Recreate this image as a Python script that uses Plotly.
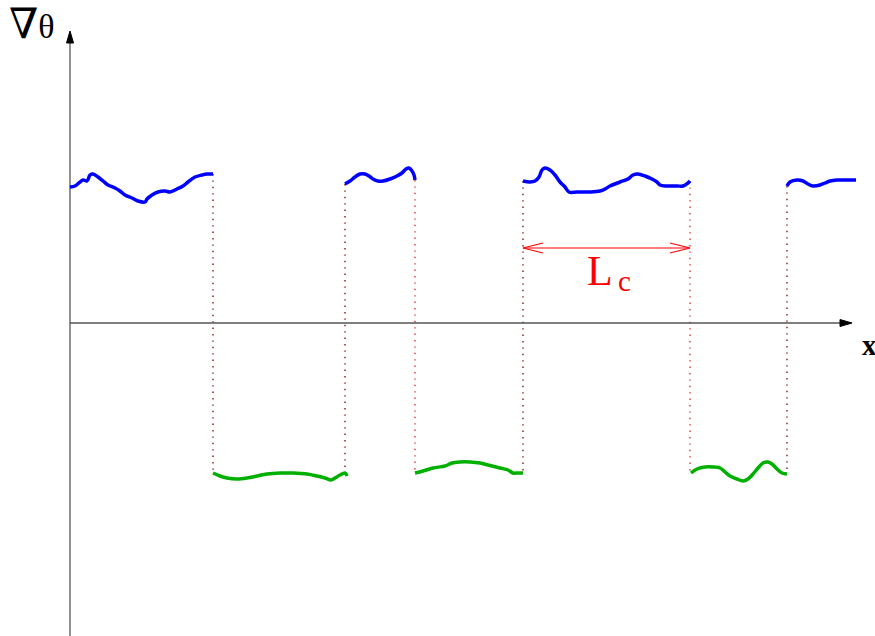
import plotly.graph_objects as go

# Interface positions (distance along x from the origin)
interfaces = [143, 275, 345, 453, 620, 717]
# Which interfaces are drawn in bright red (the others in dark red)
highlight = [345, 620]

# Positive-gradient (blue) segments
blue_x = [
    [0, 5, 10, 13, 17, 20, 23, 28, 33, 38, 45, 50, 55, 62, 68, 75, 77, 82, 88, 95, 100, 107, 113, 118, 125, 132, 137, 143],
    [275, 280, 285, 290, 295, 299, 303, 308, 313, 320, 327, 332, 336, 339, 342, 344, 345],
    [453, 460, 465, 469, 472, 475, 480, 485, 490, 495, 499, 507, 520, 530, 535, 540, 550, 558, 563, 568, 575, 582, 587, 590, 597, 607, 613, 618, 620],
    [717, 720, 727, 733, 738, 743, 750, 755, 760, 767, 777, 786],
]
blue_y = [
    [136, 137, 141, 143, 142, 148, 149, 146, 142, 138, 135, 132, 128, 125, 122, 121, 124, 128, 131, 132, 131, 134, 137, 141, 146, 148, 149, 149],
    [139, 142, 146, 149, 149, 147, 144, 142, 142, 144, 147, 150, 154, 155, 152, 148, 143],
    [142, 141, 142, 146, 153, 155, 153, 148, 141, 136, 131, 131, 131, 132, 134, 137, 141, 144, 148, 149, 147, 144, 141, 138, 137, 137, 137, 140, 142],
    [137, 141, 143, 142, 139, 137, 138, 140, 142, 143, 143, 143],
]

# Negative-gradient (green) segments
green_x = [
    [143, 150, 157, 167, 177, 187, 197, 210, 223, 237, 247, 255, 261, 265, 270, 275, 277],
    [345, 353, 363, 375, 382, 390, 400, 410, 418, 430, 438, 443, 448, 453],
    [621, 627, 635, 643, 650, 655, 660, 667, 673, 678, 683, 688, 693, 698, 702, 707, 712, 717],
]
green_y = [
    [-150, -153, -155, -156, -155, -153, -151, -150, -150, -151, -153, -155, -157, -155, -152, -150, -153],
    [-150, -148, -145, -143, -140, -139, -139, -140, -142, -145, -147, -150, -150, -150],
    [-150, -146, -144, -144, -145, -149, -153, -156, -158, -156, -151, -145, -140, -139, -141, -146, -150, -151],
]

# Correlation length marker: spans between two interfaces
lc_start, lc_end, lc_level = 453, 620, 75

# Axis extents
x_min, x_max = -70, 805
y_min, y_max = -313, 323
x_axis_tip = 782
y_axis_tip = 292

AXIS_COLOR = "#555555"
BLUE = "#0000ff"
GREEN = "#00b000"
RED = "#ff0000"
DARK_RED = "#801818"
LIGHT_RED = "#e03838"

fig = go.Figure()


def endpoint_y(xs_list, ys_list, x0):
    best = None
    for xs, ys in zip(xs_list, ys_list):
        for xv, yv in ((xs[0], ys[0]), (xs[-1], ys[-1])):
            d = abs(xv - x0)
            if best is None or d < best[0]:
                best = (d, yv)
    return best[1]


# Dotted connectors at each interface
for b in interfaces:
    top = endpoint_y(blue_x, blue_y, b)
    bot = endpoint_y(green_x, green_y, b)
    fig.add_trace(go.Scatter(
        x=[b, b], y=[top, bot], mode="lines",
        line=dict(color=LIGHT_RED if b in highlight else DARK_RED, width=1.4, dash="1.4px,5px"),
        hoverinfo="skip",
    ))

# Axes
fig.add_trace(go.Scatter(x=[0, 0], y=[y_min, y_axis_tip - 8], mode="lines",
                         line=dict(color=AXIS_COLOR, width=1.3), hoverinfo="skip"))
fig.add_trace(go.Scatter(x=[0, x_axis_tip - 8], y=[0, 0], mode="lines",
                         line=dict(color=AXIS_COLOR, width=1.3), hoverinfo="skip"))
head_len, head_half = 12, 3.5
fig.add_trace(go.Scatter(
    x=[-head_half, 0, head_half, -head_half],
    y=[y_axis_tip - head_len, y_axis_tip, y_axis_tip - head_len, y_axis_tip - head_len],
    mode="lines", fill="toself", fillcolor="black", line=dict(color="black", width=1), hoverinfo="skip"))
fig.add_trace(go.Scatter(
    x=[x_axis_tip - head_len, x_axis_tip, x_axis_tip - head_len, x_axis_tip - head_len],
    y=[-head_half, 0, head_half, -head_half],
    mode="lines", fill="toself", fillcolor="black", line=dict(color="black", width=1), hoverinfo="skip"))

# Gradient curves
for xs, ys in zip(blue_x, blue_y):
    fig.add_trace(go.Scatter(x=xs, y=ys, mode="lines", line=dict(color=BLUE, width=3.5, shape="spline"),
                             hoverinfo="skip"))
for xs, ys in zip(green_x, green_y):
    fig.add_trace(go.Scatter(x=xs, y=ys, mode="lines", line=dict(color=GREEN, width=3.5, shape="spline"),
                             hoverinfo="skip"))

# Double-headed arrow for L_c
fig.add_trace(go.Scatter(x=[lc_start, lc_end], y=[lc_level, lc_level], mode="lines",
                         line=dict(color=RED, width=1.2), hoverinfo="skip"))
arm_len, arm_half = 20, 5
fig.add_trace(go.Scatter(
    x=[lc_start + arm_len, lc_start, lc_start + arm_len],
    y=[lc_level + arm_half, lc_level, lc_level - arm_half],
    mode="lines", line=dict(color=RED, width=1.2), hoverinfo="skip"))
fig.add_trace(go.Scatter(
    x=[lc_end - arm_len, lc_end, lc_end - arm_len],
    y=[lc_level + arm_half, lc_level, lc_level - arm_half],
    mode="lines", line=dict(color=RED, width=1.2), hoverinfo="skip"))

SERIF = "Liberation Serif, Times New Roman, DejaVu Serif, serif"

fig.add_annotation(x=(lc_start + lc_end) / 2 - 7, y=52, text="L", showarrow=False,
                   font=dict(family=SERIF, size=42, color=RED), xanchor="center", yanchor="middle")
fig.add_annotation(x=(lc_start + lc_end) / 2 + 18, y=42, text="c", showarrow=False,
                   font=dict(family=SERIF, size=29, color=RED), xanchor="center", yanchor="middle")

fig.add_annotation(x=-38, y=y_max - 24, text="<span style='font-size:42px'>∇</span>θ", showarrow=False,
                   font=dict(family=SERIF, size=34, color="black"), xanchor="center", yanchor="middle")
fig.add_annotation(x=x_axis_tip + 17, y=-22, text="<b>x</b>", showarrow=False,
                   font=dict(family=SERIF, size=29, color="black"), xanchor="center", yanchor="middle")

fig.update_layout(
    width=875, height=636,
    margin=dict(l=0, r=0, t=0, b=0),
    paper_bgcolor="white", plot_bgcolor="white",
    showlegend=False,
    xaxis=dict(range=[x_min, x_max], visible=False, fixedrange=True),
    yaxis=dict(range=[y_min, y_max], visible=False, fixedrange=True),
)

fig.write_html("out.html")
